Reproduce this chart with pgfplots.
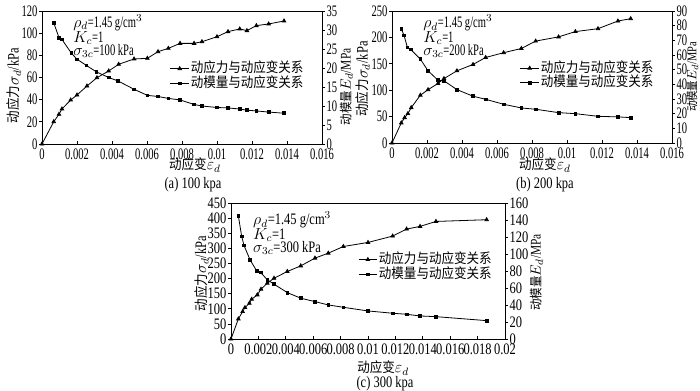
\documentclass[border=0pt]{standalone}
\usepackage{fontspec}
\setmainfont{Liberation Serif}[FakeStretch=0.78]
\newfontfamily\narrowfont{Liberation Serif}[FakeStretch=0.66]
\newfontfamily\cjk{Noto Sans CJK SC}[FakeStretch=0.9,Scale=0.87]
\usepackage{pgfplots}
\pgfplotsset{compat=1.18}
\pgfplotsset{
  base/.style={scale only axis, clip=false,
    /pgf/number format/assume math mode=true,
    scaled x ticks=false, scaled y ticks=false,
    axis line style={line width=0.5pt},
    every tick/.style={black, line width=0.5pt},
    major tick length=2.25pt,
    tick label style={font=\fontsize{12}{13}\selectfont},
    label style={font=\fontsize{12}{13}\selectfont},
    xticklabel style={/pgf/number format/fixed, /pgf/number format/precision=3},
    yticklabel style={/pgf/number format/fixed, inner sep=1pt}},
  narrow/.style={tick label style={font=\fontsize{12}{13}\narrowfont}},
  leftax/.style={base, xtick pos=bottom, ytick pos=left,
    ytick style={xshift=-2.25pt}, yticklabel style={xshift=-2.25pt}},
  rightax/.style={base, axis x line=none, axis y line*=right, tick align=outside,
    ylabel style={font=\fontsize{11}{12}\selectfont, inner sep=0pt},
    legend style={draw=none, fill=none, anchor=west, inner sep=0pt, outer sep=0pt,
      font=\fontsize{12}{13}\selectfont, row sep=1pt,
      nodes={inner sep=1pt, text height=7pt, text depth=1pt},
      cells={anchor=west}},
    legend image code/.code={\draw[mark repeat=2,mark phase=2,##1] plot coordinates {(0pt,0pt) (7pt,0pt) (14pt,0pt)};}},
  sline/.style={black, line width=0.6pt, mark=triangle*, mark size=1.5pt, mark options={solid}},
  mline/.style={black, line width=0.6pt, mark=square*, mark size=1pt, mark options={solid}},
}
\begin{document}
\begin{tikzpicture}[font=\fontsize{12}{13}\selectfont]
\path[use as bounding box] (0,0) rectangle (525pt,292.5pt);
% ---------------- (a) ----------------
\begin{axis}[leftax, narrow, at={(31.5pt,184.5pt)}, anchor=south west, width=210pt, height=99.75pt,
  xmin=0, xmax=0.016, ymin=0, ymax=120, xtick={0,0.002,...,0.0161}, ytick={0,20,...,120},
  xlabel={{\cjk 动应变}$\varepsilon_d$}, xlabel style={at={(axis description cs:0.546,-0.16)}, anchor=center},
  ylabel={{\cjk 动应力}$\sigma_d$/kPa}, ylabel style={at={(axis description cs:-0.1,0.44)}, anchor=center}]
\addplot[sline] coordinates {(0,0) (0.00067,20.1) (0.00097,26.8) (0.00114,31.6) (0.00164,39.7) (0.002,44.2) (0.00257,52.3) (0.00314,59.8) (0.00381,65.9) (0.00438,71.9) (0.00526,76.7) (0.00602,77.3) (0.00663,83.3) (0.00722,86.3) (0.00789,90.8) (0.00869,90.8) (0.00914,92.3) (0.01,96.8) (0.01063,101.4) (0.0113,103.8) (0.01171,102.3) (0.01225,106.8) (0.01295,108.3) (0.01383,111)};
\begin{scope}[every node/.style={anchor=west, inner sep=0pt, font=\fontsize{12}{13}\narrowfont}]
\node at (axis description cs:0.111,0.91) {$\rho_d$=1.45 g/cm$^3$};
\node at (axis description cs:0.111,0.797) {$K_c$=1};
\node at (axis description cs:0.111,0.699) {$\sigma_{3c}$=100 kPa};
\end{scope}
\end{axis}
\begin{axis}[rightax, narrow, at={(31.5pt,184.5pt)}, anchor=south west, width=210pt, height=99.75pt,
  xmin=0, xmax=0.016, ymin=0, ymax=35, ytick={0,5,...,35},
  ylabel={{\cjk 动模量}$E_d$/MPa}, ylabel style={at={(axis description cs:1.087,0.43)}, anchor=center},
  legend style={at={(axis description cs:0.457,0.511)}}]
\addlegendimage{sline}
\addlegendentry{{\cjk 动应力与动应变关系}}
\addplot[mline] coordinates {(0.00067,31.9) (0.00097,28.0) (0.00114,27.5) (0.00168,23.9) (0.002,22.3) (0.00253,20.7) (0.0031,19.0) (0.00381,17.5) (0.00434,16.6) (0.00526,14.4) (0.00602,12.8) (0.00663,12.5) (0.00722,12.0) (0.00789,11.6) (0.00869,10.4) (0.00914,10.0) (0.01,9.6) (0.01063,9.5) (0.0113,9.2) (0.01171,8.9) (0.01225,8.7) (0.01295,8.4) (0.01383,8.1)};
\addlegendentry{{\cjk 动模量与动应变关系}}
\end{axis}
% ---------------- (b) ----------------
\begin{axis}[leftax, narrow, at={(294pt,185.25pt)}, anchor=south west, width=210pt, height=99pt,
  xmin=0, xmax=0.016, ymin=0, ymax=250, xtick={0,0.002,...,0.0161}, ytick={0,50,...,250},
  xlabel={{\cjk 动应变}$\varepsilon_d$}, xlabel style={at={(axis description cs:0.546,-0.167)}, anchor=center},
  ylabel={{\cjk 动应力}$\sigma_d$/kPa}, ylabel style={at={(axis description cs:-0.104,0.485)}, anchor=center}]
\addplot[sline] coordinates {(0,0) (0.00053,38) (0.00072,48) (0.00091,55.7) (0.0011,67) (0.00162,90.5) (0.00206,101) (0.00263,112.7) (0.00297,122) (0.00371,136.7) (0.00463,148.7) (0.00535,162) (0.00638,171) (0.00739,179) (0.00821,193) (0.00952,201) (0.01048,211) (0.01177,216.5) (0.01291,231) (0.01364,235.4)};
\begin{scope}[every node/.style={anchor=west, inner sep=0pt, font=\fontsize{12}{13}\narrowfont}]
\node at (axis description cs:0.111,0.909) {$\rho_d$=1.45 g/cm$^3$};
\node at (axis description cs:0.111,0.795) {$K_c$=1};
\node at (axis description cs:0.111,0.697) {$\sigma_{3c}$=200 kPa};
\end{scope}
\end{axis}
\begin{axis}[rightax, narrow, at={(294pt,185.25pt)}, anchor=south west, width=210pt, height=99pt,
  xmin=0, xmax=0.016, ymin=0, ymax=90, ytick={0,10,...,90},
  ylabel={{\cjk 动模量}$E_d$/MPa}, ylabel style={at={(axis description cs:1.073,0.5)}, anchor=center, font=\fontsize{10}{11}\selectfont},
  legend style={at={(axis description cs:0.457,0.511)}}]
\addlegendimage{sline}
\addlegendentry{{\cjk 动应力与动应变关系}}
\addplot[mline] coordinates {(0.00053,77.9) (0.00069,73.3) (0.00088,65.1) (0.00107,63.8) (0.00162,57.2) (0.00206,49.2) (0.00263,42.8) (0.00297,42.4) (0.00371,36.4) (0.00463,31.9) (0.00535,29.8) (0.00638,26.4) (0.00739,23.9) (0.00821,23.0) (0.00952,20.7) (0.01048,20.0) (0.01177,18.2) (0.01291,17.8) (0.01364,17.3)};
\addlegendentry{{\cjk 动模量与动应变关系}}
\end{axis}
% ---------------- (c) ----------------
\begin{axis}[leftax, at={(173.25pt,38.25pt)}, anchor=south west, width=205.5pt, height=102pt,
  xmin=0, xmax=0.02, ymin=0, ymax=450, xtick={0,0.002,...,0.0201}, ytick={0,50,...,450},
  xlabel={{\cjk 动应变}$\varepsilon_d$}, xlabel style={at={(axis description cs:0.555,-0.213)}, anchor=center},
  ylabel={{\cjk 动应力}$\sigma_d$/kPa}, ylabel style={at={(axis description cs:-0.108,0.48)}, anchor=center}]
\addplot[sline] coordinates {(0,0) (0.000535,66.3) (0.00085,90.7) (0.00102,104) (0.00134,118) (0.00151,131.6) (0.00192,146) (0.00219,164.7) (0.00265,184.7) (0.00314,201) (0.00411,223.4) (0.00509,242) (0.00613,267.6) (0.0071,284) (0.0082,306) (0.01,319.5) (0.0118,340.6) (0.01282,363.8) (0.0138,372.6) (0.01496,389) (0.01866,394.7)};
\node[anchor=west, inner sep=0pt] at (axis description cs:0.08,0.875) {$\rho_d$=1.45 g/cm$^3$};
\node[anchor=west, inner sep=0pt] at (axis description cs:0.08,0.765) {$K_c$=1};
\node[anchor=west, inner sep=0pt] at (axis description cs:0.08,0.669) {$\sigma_{3c}$=300 kPa};
\end{axis}
\begin{axis}[rightax, at={(173.25pt,38.25pt)}, anchor=south west, width=205.5pt, height=102pt,
  xmin=0, xmax=0.02, ymin=0, ymax=160, ytick={0,20,...,160},
  ylabel={{\cjk 动模量}$E_d$/MPa}, ylabel style={at={(axis description cs:1.115,0.49)}, anchor=center},
  legend style={at={(axis description cs:0.464,0.53)}}]
\addlegendimage{sline}
\addlegendentry{{\cjk 动应力与动应变关系}}
\addplot[mline] coordinates {(0.000535,145) (0.00078,120.7) (0.00095,110) (0.00139,93.2) (0.00187,80.2) (0.00217,78.2) (0.00265,69.6) (0.00314,64.5) (0.00411,54.6) (0.00509,48) (0.00613,44) (0.0071,40.1) (0.0082,37.3) (0.01,33) (0.0118,30.3) (0.01282,29.1) (0.0138,27.1) (0.01496,26.3) (0.01866,21.6)};
\addlegendentry{{\cjk 动模量与动应变关系}}
\end{axis}
% captions
\node[anchor=base] at (144.75pt,151.5pt) {(a) 100 kpa};
\node[anchor=base] at (408.75pt,151.5pt) {(b) 200 kpa};
\node[anchor=base] at (288.75pt,2pt) {(c) 300 kpa};
\end{tikzpicture}
\end{document}
